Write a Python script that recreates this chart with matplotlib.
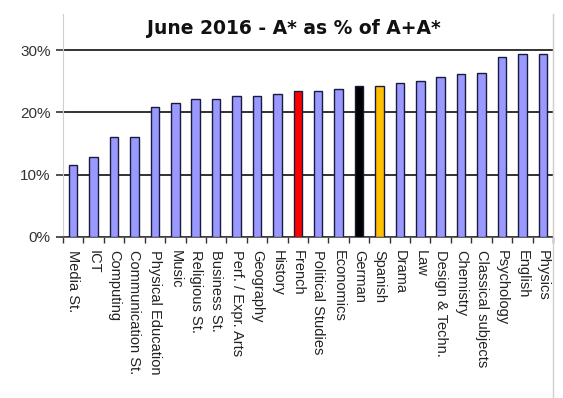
import numpy as np
import matplotlib.pyplot as plt
from matplotlib.lines import Line2D

plt.rcParams['font.family'] = ['Liberation Sans', 'DejaVu Sans']

# A* grades as a share of all A and A* grades, by subject
subjects = ["Media St.", "ICT", "Computing", "Communication St.", "Physical Education",
            "Music", "Religious St.", "Business St.", "Perf. / Expr. Arts", "Geography",
            "History", "French", "Political Studies", "Economics", "German", "Spanish",
            "Drama", "Law", "Design & Techn.", "Chemistry", "Classical subjects",
            "Psychology", "English", "Physics"]
astar_pct = [11.6, 12.9, 16.1, 16.1, 20.8, 21.5, 22.2, 22.2, 22.7, 22.7,
             22.9, 23.5, 23.5, 23.8, 24.2, 24.2, 24.8, 25.1, 25.7, 26.1,
             26.4, 28.9, 29.4, 29.4]

# languages picked out in their own colours
highlight = {"French": "#ff0000", "German": "#000000", "Spanish": "#ffc000"}
colors = [highlight.get(s, "#9999ff") for s in subjects]

fig = plt.figure(figsize=(5.63, 3.98), dpi=100)
ax = fig.add_axes([63 / 563, 1 - 237 / 398, 490 / 563, 223 / 398])

x = np.arange(len(subjects))
ax.bar(x, astar_pct, width=0.42, color=colors, edgecolor="#1a1a40", linewidth=1.0, zorder=3)

ax.set_xlim(-0.5, len(subjects) - 0.5)
ax.set_ylim(0, 35.8)
ax.set_yticks([0, 10, 20, 30])
ax.set_yticklabels(["0%", "10%", "20%", "30%"], fontsize=11, color="#333333")
ax.yaxis.grid(True, color="#222222", linewidth=1.3, zorder=1)
ax.tick_params(axis="y", length=5, color="#333333", width=1.2, pad=4)

ax.set_xticks(x)
ax.set_xticklabels(subjects, rotation=270, ha="center", va="top",
                   fontsize=10.5, color="#222222")
ax.set_xticks(np.arange(len(subjects) + 1) - 0.5, minor=True)
ax.tick_params(axis="x", which="major", length=0, pad=9)
ax.tick_params(axis="x", which="minor", length=4, color="#333333", width=1)

ax.spines["top"].set_visible(False)
ax.spines["bottom"].set_color("#444444")
ax.spines["bottom"].set_linewidth(1.2)
ax.spines["left"].set_color("#d0d0d0")
ax.spines["right"].set_color("#d0d0d0")

# chart frame edge on the right runs down to the bottom
fig.add_artist(Line2D([553 / 563, 553 / 563], [0, 1 - 14 / 398],
                      transform=fig.transFigure, color="#d0d0d0", linewidth=1))

fig.text(294 / 563, 1 - 29 / 398, "June 2016 - A* as % of A+A*",
         ha="center", va="center", fontsize=13.5, fontweight="bold",
         family="DejaVu Sans", color="#111111")

fig.savefig("out.png", dpi=100)
